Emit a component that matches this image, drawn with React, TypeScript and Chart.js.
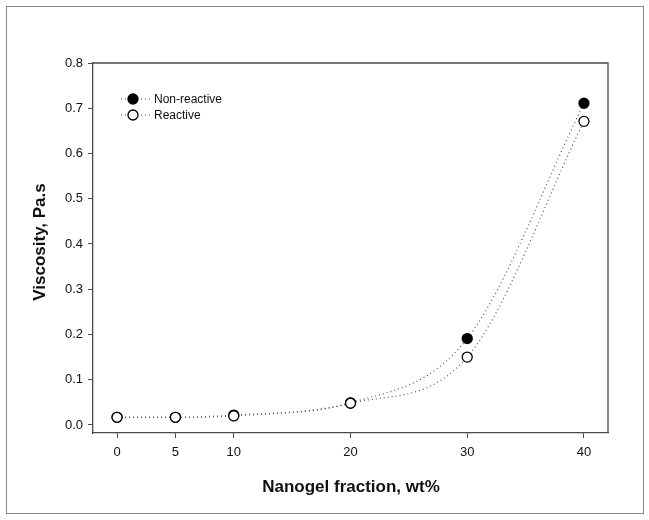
import React, { useEffect, useRef } from "react";
import { Chart, registerables } from "chart.js";

Chart.register(...registerables);

const fractions = [0, 5, 10, 20, 30, 40];
const nonReactive = [0.017, 0.017, 0.022, 0.049, 0.191, 0.711];
const reactive = [0.017, 0.017, 0.02, 0.048, 0.15, 0.671];
const xTicks = [0, 5, 10, 20, 30, 40];
const yTicks = [0, 0.1, 0.2, 0.3, 0.4, 0.5, 0.6, 0.7, 0.8];
const seriesNames = ["Non-reactive", "Reactive"];
const xTitle = "Nanogel fraction, wt%";
const yTitle = "Viscosity, Pa.s";

const FONT = "Arial, 'Liberation Sans', sans-serif";

const framePlugin = {
  id: "frameAndText",
  afterDraw(chart: any) {
    const { ctx, chartArea } = chart;
    const { left, right, top, bottom } = chartArea;
    ctx.save();
    ctx.strokeStyle = "#4a4a4a";
    ctx.lineWidth = 1.3;
    ctx.beginPath();
    ctx.moveTo(left, top);
    ctx.lineTo(right, top);
    ctx.lineTo(right, bottom);
    ctx.stroke();
    ctx.fillStyle = "#111";
    ctx.font = `bold 17px ${FONT}`;
    ctx.textAlign = "center";
    ctx.textBaseline = "middle";
    ctx.fillText(xTitle, 351, 487);
    ctx.translate(40, 242);
    ctx.rotate(-Math.PI / 2);
    ctx.fillText(yTitle, 0, 0);
    ctx.restore();

    ctx.save();
    const lx0 = 121, lx1 = 150, mx = 133;
    const rows = [99, 115];
    rows.forEach((y, i) => {
      ctx.strokeStyle = "#555";
      ctx.lineWidth = 1.2;
      ctx.setLineDash([1, 3]);
      ctx.beginPath();
      ctx.moveTo(lx0, y);
      ctx.lineTo(lx1, y);
      ctx.stroke();
      ctx.setLineDash([]);
      ctx.beginPath();
      ctx.arc(mx, y, 5, 0, Math.PI * 2);
      ctx.fillStyle = i === 0 ? "#000" : "#fff";
      ctx.fill();
      ctx.strokeStyle = "#000";
      ctx.lineWidth = 1.3;
      ctx.stroke();
      ctx.fillStyle = "#111";
      ctx.font = `12px ${FONT}`;
      ctx.textAlign = "left";
      ctx.textBaseline = "middle";
      ctx.fillText(seriesNames[i], 154, y + 1);
    });
    ctx.restore();
  },
};

export default function App() {
  const ref = useRef<HTMLCanvasElement>(null);
  useEffect(() => {
    const canvas = ref.current!;
    const mk = (vals: number[]) => fractions.map((x, i) => ({ x, y: vals[i] }));
    const chart = new Chart(canvas, {
      type: "line",
      data: {
        datasets: [
          {
            label: seriesNames[0],
            data: mk(nonReactive),
            order: 2,
            borderColor: "#555",
            borderWidth: 1.2,
            borderDash: [1, 3],
            cubicInterpolationMode: "monotone",
            pointRadius: 5,
            pointBackgroundColor: "#000",
            pointBorderColor: "#000",
            pointBorderWidth: 1.3,
            fill: false,
          },
          {
            label: seriesNames[1],
            data: mk(reactive),
            order: 1,
            borderColor: "#555",
            borderWidth: 1.2,
            borderDash: [1, 3],
            cubicInterpolationMode: "monotone",
            pointRadius: 5,
            pointBackgroundColor: "#fff",
            pointBorderColor: "#000",
            pointBorderWidth: 1.3,
            fill: false,
          },
        ],
      },
      options: {
        animation: false,
        responsive: false,
        events: [],
        layout: { padding: { top: 63, right: 41, left: 0, bottom: 0 } },
        plugins: { legend: { display: false }, tooltip: { enabled: false } },
        scales: {
          x: {
            type: "linear",
            min: -2.06,
            max: 42.06,
            afterFit: (s: any) => { s.height = 87; },
            afterBuildTicks: (s: any) => { s.ticks = xTicks.map((v) => ({ value: v })); },
            grid: { drawOnChartArea: false, drawTicks: true, tickLength: 5, color: "#4a4a4a", lineWidth: 1 },
            border: { display: true, color: "#4a4a4a", width: 1.3 },
            ticks: { color: "#111", font: { family: FONT, size: 13 }, padding: 7, maxRotation: 0, callback: (v: any) => String(v) },
          },
          y: {
            type: "linear",
            min: -0.0177,
            max: 0.8,
            afterFit: (s: any) => { s.width = 93; },
            afterBuildTicks: (s: any) => { s.ticks = yTicks.map((v) => ({ value: v })); },
            grid: { drawOnChartArea: false, drawTicks: true, tickLength: 5, color: "#4a4a4a", lineWidth: 1 },
            border: { display: true, color: "#4a4a4a", width: 1.3 },
            ticks: { color: "#111", font: { family: FONT, size: 13 }, padding: 5, callback: (v: any) => Number(v).toFixed(1) },
          },
        },
      },
      plugins: [framePlugin],
    });
    return () => chart.destroy();
  }, []);
  return (
    <div style={{ position: "fixed", left: 0, top: 0, width: 649, height: 520, background: "#fff" }}>
      <div style={{ position: "absolute", left: 6, top: 6, width: 636, height: 506, border: "1px solid #8a8a8a" }} />
      <canvas ref={ref} width={649} height={520} style={{ position: "absolute", left: 0, top: 0 }} />
    </div>
  );
}
